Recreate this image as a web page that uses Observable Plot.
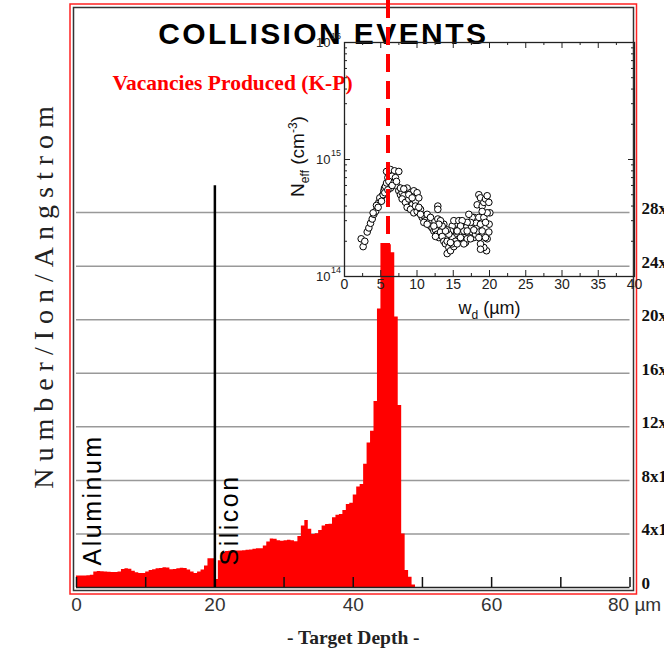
<!DOCTYPE html>
<html>
<head>
<meta charset="utf-8">
<script src="https://cdn.jsdelivr.net/npm/d3@7"></script>
<script src="https://cdn.jsdelivr.net/npm/@observablehq/plot@0.6"></script>
<style>
  html, body { margin: 0; padding: 0; background: #fff; overflow: hidden; }
  #chart { position: relative; width: 664px; height: 655px; }
  #chart svg { position: absolute; left: 0; top: 0; }
</style>
</head>
<body>
<div id="chart"></div>
<script>
// Vacancy profile (SRIM, Kinchin-Pease), 0.5 µm depth bins starting at 0 µm
const binWidth = 0.5;
const vacancies = [
  0.85, 0.85, 0.85, 0.87, 0.92, 1.15, 1.2, 1.18, 1.15, 1.14,
  1.12, 1.12, 1.15, 1.35, 1.4, 1.36, 1.22, 1.1, 1.05, 1.05,
  1.15, 1.27, 1.32, 1.4, 1.42, 1.47, 1.45, 1.32, 1.35, 1.4,
  1.44, 1.42, 1.3, 1.15, 1.05, 1.15, 1.3, 1.6, 2.15, 2.15,
  0.6, 2.0, 2.6, 2.68, 2.7, 2.72, 2.72, 2.72, 2.75, 2.78,
  2.8, 2.85, 2.9, 2.9, 3.1, 3.4, 3.63, 3.6, 3.5, 3.45,
  3.5, 3.52, 3.5, 3.42, 3.8, 4.6, 5.0, 4.35, 3.95, 4.02,
  4.25, 4.6, 4.7, 4.72, 5.2, 5.4, 5.45, 5.75, 6.2, 6.3,
  6.9, 7.5, 7.7, 9.2, 10.8, 11.67, 13.9, 20.8, 25.7, 25.7,
  25.6, 25.0, 20.2, 13.6, 4.0, 1.27, 0.77, 0.18
];
const gridLevels = [4, 8, 12, 16, 20, 24, 28];
const rightTickValues = [0, 4, 8, 12, 16, 20, 24, 28];
const rightTickLabels = ["0", "4x10⁻²", "8x10⁻²", "12x10⁻²", "16x10⁻²", "20x10⁻²", "24x10⁻²", "28x10⁻²"];
const depthTicks = [0, 10, 20, 30, 40, 50, 60, 70, 80];
const depthLabels = [0, 20, 40, 60];
const depthUnitTick = 80;
const layerBoundary = 20;   // Al / Si interface, µm
const boundaryTop = 30;     // height of the interface marker

// Inset: N_eff versus depletion depth w_d
const wd = [
  2.30, 2.57, 2.80, 3.13, 3.36, 3.59, 3.82, 4.05, 4.28, 4.51, 4.74, 4.97, 5.20, 5.43, 5.52, 5.66, 5.80,
  3.95, 4.41, 4.87, 4.64, 5.10, 5.33, 5.56,
  5.80, 5.98, 6.35, 6.90, 7.49, 6.57, 7.03, 6.12, 6.80, 7.26, 6.35, 5.98, 6.57, 7.17,
  7.49, 7.72, 7.95, 8.18, 8.64, 9.10, 9.56, 10.02, 7.95, 8.41, 8.87, 9.33, 9.79, 10.25,
  8.64, 9.10, 9.56, 10.02, 10.48, 10.71, 10.94, 11.17, 11.40, 11.63, 11.86, 12.09, 12.32, 12.55,
  12.78, 13.01, 12.87, 12.87, 12.87, 13.24, 13.47, 13.70, 13.93, 14.16, 14.39, 14.62, 14.85, 15.08,
  15.31, 14.85, 15.08, 15.77, 15.91, 16.23, 16.46, 16.69, 16.92, 17.15, 17.38, 17.61, 17.84, 18.07,
  18.30, 18.30, 18.53, 18.76, 18.99, 19.22, 19.45, 19.68, 19.91, 20.05, 19.95, 19.91, 19.68, 19.59,
  19.22, 18.76, 18.53, 18.30, 18.07, 17.84, 17.61, 17.38, 17.15, 16.92, 16.69, 16.46, 16.23, 16.00,
  15.77, 15.54, 15.31, 14.85, 14.62, 14.39, 14.16, 13.93, 13.70, 13.47, 13.24, 13.01,
  7.72, 8.18, 8.87, 9.33, 9.79, 10.25, 10.48, 10.94, 11.40, 11.86, 12.32, 12.55, 14.16, 14.62,
  15.54, 16.00, 16.46, 16.92, 17.38, 17.84, 18.53, 18.76, 18.99, 19.22, 19.45, 19.68, 19.45, 18.99, 18.76
];
const neff = [
  2.1, 1.8, 2.0, 2.4, 2.6, 2.85, 3.1, 3.4, 3.6, 4.0, 4.3, 4.6, 4.9, 5.4, 5.7, 5.9, 6.3,
  3.5, 4.05, 4.7, 3.9, 4.4, 5.0, 5.2,
  7.9, 7.0, 8.2, 8.0, 7.9, 7.2, 7.0, 6.5, 6.3, 5.9, 5.7, 5.5, 6.0, 6.5,
  5.4, 5.0, 5.2, 4.9, 5.7, 5.2, 5.4, 5.2, 4.6, 4.3, 4.6, 4.1, 4.4, 4.7,
  3.9, 3.75, 3.5, 3.6, 3.75, 3.2, 3.3, 3.0, 3.4, 2.9, 2.7, 2.6, 2.45, 2.5,
  2.3, 2.15, 4.0, 3.75, 3.1, 2.4, 2.2, 2.0, 1.9, 1.57, 1.77, 1.66, 2.15, 1.8,
  2.45, 2.7, 3.0, 3.0, 2.6, 2.3, 2.15, 1.95, 2.1, 2.45, 2.6, 2.4, 2.15, 2.3,
  2.45, 4.1, 5.0, 4.7, 4.0, 4.3, 4.6, 4.9, 4.3, 3.5, 2.8, 2.4, 2.1, 1.66,
  1.77, 1.9, 2.15, 2.7, 2.9, 3.2, 3.2, 2.9, 3.4, 2.9, 2.6, 2.45, 3.0, 2.7,
  2.1, 2.45, 2.0, 1.9, 2.45, 2.3, 2.5, 2.45, 2.8, 2.7, 3.0, 2.8,
  5.7, 5.6, 5.0, 4.7, 4.0, 3.9, 3.4, 2.9, 2.8, 3.2, 2.7, 2.2, 2.0, 1.95,
  1.9, 2.15, 1.9, 2.45, 2.1, 2.5, 3.2, 2.8, 2.45, 3.2, 2.9, 3.5, 2.15, 3.6, 1.71
].map(v => v * 1e14);
const wdTicks = [0, 5, 10, 15, 20, 25, 30, 35, 40];
const wdMinor = [2.5, 7.5, 12.5, 17.5, 22.5, 27.5, 32.5, 37.5];
const neffDecades = [1e14, 1e15, 1e16];
const neffMinor = [2, 3, 4, 5, 6, 7, 8, 9].flatMap(m => [m * 1e14, m * 1e15]);
const depletionDepth = 6;  // µm, marked across both panels

const W = 664, H = 655;
// step outline of the histogram: one vertex per bin start, closed at the last bin's end
const profile = vacancies.map((v, i) => ({x: i * binWidth, v}))
  .concat([{x: vacancies.length * binWidth, v: vacancies[vacancies.length - 1]}]);
const rightTicks = rightTickValues.map((v, i) => ({v, label: rightTickLabels[i]}));
const points = wd.map((w, i) => ({w, n: neff[i]}));

const label = (str, opts) => Plot.text([str], {text: d => d, ...opts});

const main = Plot.plot({
  width: W, height: H,
  marginLeft: 76, marginRight: 34.5, marginTop: 0, marginBottom: 68,
  x: {domain: [0, 80], axis: null},
  y: {domain: [0, 43.84], axis: null},
  style: {background: "transparent", fontFamily: "Liberation Sans"},
  marks: [
    Plot.frame({stroke: "#f22", strokeWidth: 1.5, insetLeft: -6.5, insetRight: -6.5, insetTop: 3.5, insetBottom: -6.5}),
    Plot.frame({stroke: "#333", strokeWidth: 1.5, insetLeft: -3, insetRight: -3.5, insetTop: 7, insetBottom: -3}),
    Plot.ruleY(gridLevels, {stroke: "#999", strokeWidth: 1.5}),
    Plot.areaY(profile, {x: "x", y: "v", curve: "step-after", fill: "#ff0000"}),
    Plot.ruleY([0], {stroke: "#222", strokeWidth: 1.5}),
    Plot.ruleX(depthTicks, {stroke: "#111", strokeWidth: 1.5, insetTop: 577}),
    Plot.ruleX([layerBoundary], {y1: 0, y2: boundaryTop, stroke: "#000", strokeWidth: 2.5}),
    Plot.text(depthLabels, {x: d => d, text: d => String(d), frameAnchor: "bottom", dy: 23, fontSize: 19, fill: "#333"}),
    Plot.text([depthUnitTick], {x: d => d, text: d => `${d} µm`, frameAnchor: "bottom", dx: -22, dy: 23, textAnchor: "start", fontSize: 19, fill: "#333"}),
    Plot.text(rightTicks, {y: "v", text: "label", frameAnchor: "right", dx: 11.5, dy: -4, textAnchor: "start",
      fontSize: 17, fontWeight: "bold", fontFamily: "Liberation Serif", fill: "#111"}),
    label("Number/Ion/Angstrom", {frameAnchor: "left", dx: -32, rotate: -90, textAnchor: "middle", fontSize: 28,
      fontFamily: "Liberation Serif", fill: "#222"}),
    label("- Target Depth -", {frameAnchor: "bottom", dy: 56, fontSize: 19.5, fontWeight: "bold",
      fontFamily: "Liberation Serif", fill: "#222"}),
    label("Aluminum", {frameAnchor: "bottom-left", dx: 24, dy: -22, rotate: -90, textAnchor: "start",
      lineAnchor: "bottom", fontSize: 25, fill: "#000"}),
    label("Silicon", {frameAnchor: "bottom-left", dx: 161, dy: -22, rotate: -90, textAnchor: "start",
      lineAnchor: "bottom", fontSize: 25, fill: "#000"}),
    label("COLLISION EVENTS", {frameAnchor: "top", dx: -30, dy: 43, lineAnchor: "bottom", fontSize: 30,
      fontWeight: "bold", fill: "#000"}),
    label("Vacancies Produced (K-P)", {frameAnchor: "top-left", dx: 36, dy: 89, textAnchor: "start",
      lineAnchor: "bottom", fontSize: 21.5, fontWeight: "bold", fontFamily: "Liberation Serif", fill: "#ff0000"})
  ]
});

const inset = Plot.plot({
  width: W, height: H,
  marginLeft: 344, marginRight: 30, marginTop: 42, marginBottom: 379,
  x: {domain: [0, 40], axis: null},
  y: {type: "log", domain: [1e14, 1e16], axis: null},
  style: {background: "transparent", fontFamily: "Liberation Sans"},
  marks: [
    Plot.frame({stroke: "#222", strokeWidth: 1.3}),
    Plot.ruleX(wdTicks, {stroke: "#222", insetTop: 228}),
    Plot.ruleX(wdTicks, {stroke: "#222", insetBottom: 228}),
    Plot.ruleX(wdMinor, {stroke: "#222", insetTop: 231}),
    Plot.ruleX(wdMinor, {stroke: "#222", insetBottom: 231}),
    Plot.ruleY(neffDecades, {stroke: "#222", insetLeft: 284}),
    Plot.ruleY(neffDecades, {stroke: "#222", insetRight: 284}),
    Plot.ruleY(neffMinor, {stroke: "#222", insetLeft: 287}),
    Plot.ruleY(neffMinor, {stroke: "#222", insetRight: 287}),
    Plot.dot(points, {x: "w", y: "n", r: 3.3, stroke: "#000", strokeWidth: 1, fill: "#fff"}),
    Plot.text(wdTicks, {x: d => d, text: d => String(d), frameAnchor: "bottom", dy: 12.5, fontSize: 14, fill: "#222"}),
    Plot.text(neffDecades, {y: d => d, text: () => "10", frameAnchor: "left", dx: -14, textAnchor: "end", fontSize: 13, fill: "#222"}),
    Plot.text(neffDecades, {y: d => d, text: d => String(Math.round(Math.log10(d))), frameAnchor: "left", dx: -13.5, dy: -6,
      textAnchor: "start", fontSize: 9, fill: "#222"}),
    label("Neff (cm-3)", {frameAnchor: "left", dx: -47, dy: -3, rotate: -90, textAnchor: "middle", fontSize: 19, fill: "#111"}),
    label("wd (µm)", {frameAnchor: "bottom", dy: 37, fontSize: 18, fill: "#111"}),
    Plot.ruleX([depletionDepth], {stroke: "#ff0000", strokeWidth: 4, strokeDasharray: "18,9", insetTop: -42, insetBottom: 26})
  ]
});

const chart = document.getElementById("chart");
chart.append(main, inset);

// Typographic touches: letter spacing, subscripts and superscripts
const findText = (svg, str) => d3.select(svg).selectAll("text").filter(function() { return this.textContent === str; });
findText(main, "COLLISION EVENTS").attr("letter-spacing", 2.4);
findText(main, "Number/Ion/Angstrom").attr("letter-spacing", 7);
findText(main, "Aluminum").attr("letter-spacing", 2.5);
findText(main, "Silicon").attr("letter-spacing", 2.5);

const neffLabel = findText(inset, "Neff (cm-3)");
neffLabel.text(null);
neffLabel.append("tspan").text("N");
neffLabel.append("tspan").attr("dy", 5).attr("font-size", 12).text("eff");
neffLabel.append("tspan").attr("dy", -5).text(" (cm");
neffLabel.append("tspan").attr("dy", -7).attr("font-size", 12).text("-3");
neffLabel.append("tspan").attr("dy", 7).text(")");

const wdLabel = findText(inset, "wd (µm)");
wdLabel.text(null);
wdLabel.append("tspan").text("w");
wdLabel.append("tspan").attr("dy", 5).attr("font-size", 12).text("d");
wdLabel.append("tspan").attr("dy", -5).text(" (µm)");
</script>
</body>
</html>
